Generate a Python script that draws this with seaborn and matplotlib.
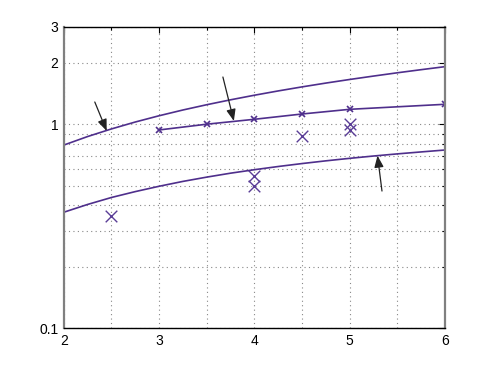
import numpy as np
import pandas as pd
import seaborn as sns
import matplotlib.pyplot as plt
from matplotlib.ticker import FixedLocator, NullFormatter, FixedFormatter

# curves (every 0.25 in x)
x_curve = [2.0, 2.25, 2.5, 2.75, 3.0, 3.25, 3.5, 3.75, 4.0,
           4.25, 4.5, 4.75, 5.0, 5.25, 5.5, 5.75, 6.0]
upper = [0.79, 0.87, 0.948, 1.025, 1.1, 1.174, 1.246, 1.317, 1.387,
         1.456, 1.524, 1.591, 1.657, 1.722, 1.787, 1.851, 1.915]
lower = [0.37, 0.404, 0.437, 0.467, 0.496, 0.524, 0.55, 0.575, 0.598,
         0.62, 0.641, 0.661, 0.68, 0.698, 0.715, 0.731, 0.747]

# middle series with small markers
x_mid = [3.0, 3.5, 4.0, 4.5, 5.0, 6.0]
y_mid = [0.937, 1.0, 1.057, 1.122, 1.183, 1.252]

# scattered big markers
x_pts = [2.5, 4.0, 4.0, 4.5, 5.0, 5.0]
y_pts = [0.356, 0.559, 0.497, 0.872, 1.0, 0.937]

# arrows (tail -> tip)
arrows = [((2.325, 1.285), (2.45, 0.926)),
          ((3.67, 1.704), (3.785, 1.037)),
          ((5.34, 0.470), (5.293, 0.701))]

col = '#4f2f8c'

sns.set_style('white')
plt.rcParams['font.family'] = ['Liberation Sans', 'DejaVu Sans']

fig = plt.figure(figsize=(4.91, 3.69), dpi=100)
ax = fig.add_axes([0.130, 0.111, 0.776, 0.816])

df_c = pd.DataFrame({'x': x_curve * 2, 'y': upper + lower,
                     'c': ['up'] * len(x_curve) + ['lo'] * len(x_curve)})
sns.lineplot(data=df_c, x='x', y='y', units='c', estimator=None,
             color=col, lw=1.2, ax=ax)
sns.lineplot(x=x_mid, y=y_mid, color=col, lw=1.2, marker='x',
             markersize=4, markeredgewidth=1.2, markeredgecolor=col, ax=ax)
sns.scatterplot(x=x_pts, y=y_pts, marker='x', s=70, color='#5a3d96',
                linewidth=1.0, ax=ax)

for (tx, ty), (hx, hy) in arrows:
    ax.annotate('', xy=(hx, hy), xytext=(tx, ty),
                arrowprops=dict(arrowstyle='-|>,head_length=0.5,head_width=0.2',
                                color='#222222', lw=0.9,
                                mutation_scale=14, shrinkA=0, shrinkB=0))

ax.set_yscale('log')
ax.set_xlim(2, 6)
ax.set_ylim(0.1, 3)
ax.set_xlabel('')
ax.set_ylabel('')

ax.xaxis.set_major_locator(FixedLocator([2, 3, 4, 5, 6]))
ax.xaxis.set_minor_locator(FixedLocator([2.5, 3.5, 4.5, 5.5]))
ax.yaxis.set_major_locator(FixedLocator([0.1, 1, 2, 3]))
ax.yaxis.set_major_formatter(FixedFormatter(['0.1', '1', '2', '3']))
ax.yaxis.set_minor_locator(FixedLocator([0.2, 0.3, 0.4, 0.5, 0.6, 0.7, 0.8, 0.9]))
ax.yaxis.set_minor_formatter(NullFormatter())

ax.tick_params(which='both', direction='in', top=True, right=True,
               labelsize=10, pad=4, colors='black')
ax.tick_params(which='major', length=4, width=0.8)
ax.tick_params(which='minor', length=2.5, width=0.8)

ax.grid(True, which='both', axis='both', linestyle=(0, (1, 3)),
        color='#888888', lw=0.8)

for s in ['top', 'bottom']:
    ax.spines[s].set_color('black')
    ax.spines[s].set_linewidth(1.0)
for s in ['left', 'right']:
    ax.spines[s].set_color('#808080')
    ax.spines[s].set_linewidth(1.6)

fig.savefig('out.png', dpi=100)
